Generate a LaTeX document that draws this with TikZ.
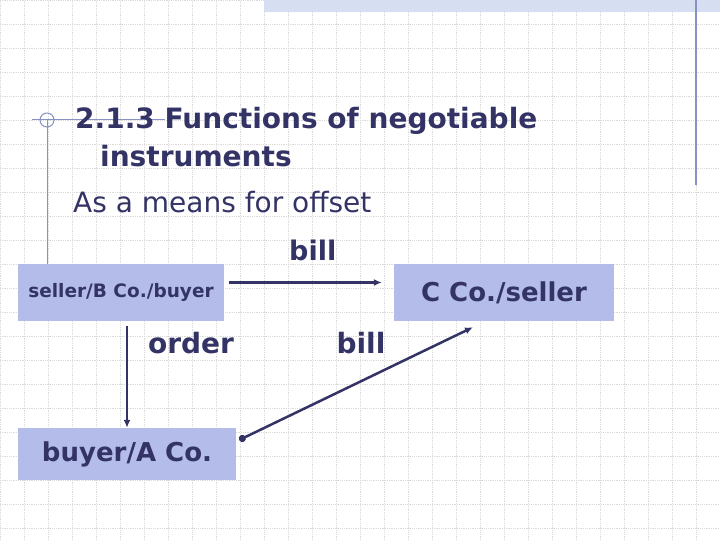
\documentclass[tikz,border=0pt]{standalone}
\usepackage{fontspec}
\setmainfont{DejaVu Sans}
\usetikzlibrary{arrows.meta}

\definecolor{ink}{RGB}{51,51,102}
\definecolor{boxfill}{RGB}{180,188,234}
\definecolor{gridgray}{RGB}{218,218,218}
\definecolor{rulecol}{RGB}{135,145,195}
\definecolor{hatch}{RGB}{214,223,242}

\begin{document}
\begin{tikzpicture}[x=1pt,y=-1pt,
    box/.style={fill=boxfill, inner sep=0pt, text=ink},
    heading/.style={text=ink, inner sep=0pt, anchor=base west},
    lbl/.style={text=ink, inner sep=0pt, font=\bfseries\fontsize{28}{32}\selectfont},
    link/.style={draw=ink, line width=2.5pt, -{Latex[length=8pt,width=7pt]}}]
    \useasboundingbox (0,0) rectangle (720,540);
    \fill[white] (0,0) rectangle (720,540);

    % slide background
    \draw[gridgray, densely dotted, line width=0.8pt] (0,0) grid[step=24pt] (720,540);
    \fill[hatch] (264,0) rectangle (720,12);
    \draw[rulecol, line width=1.2pt] (696,0) -- (696,185);
    \draw[rulecol, line width=1pt] (32,120) -- (165,120);
    \draw[rulecol, line width=1pt] (47,120) -- (47,264);
    \draw[rulecol, line width=1pt] (47,120) circle[radius=7pt];

    % headings
    \node[heading, font=\bfseries\fontsize{28}{32}\selectfont] (TTL) at (75,129) {2.1.3 Functions of negotiable};
    \node[heading, font=\bfseries\fontsize{28}{32}\selectfont] (INS) at (100,167) {instruments};
    \node[heading, font=\fontsize{28}{32}\selectfont] (SUB) at (73,213) {As a means for offset};

    % parties
    \node[box, minimum width=206pt, minimum height=57pt, font=\bfseries\fontsize{18.5}{22}\selectfont] (SBB) at (121,292.5) {seller/B Co./buyer};
    \node[box, minimum width=220pt, minimum height=57pt, font=\bfseries\fontsize{26}{30}\selectfont] (CCS) at (504,292.5) {C Co./seller};
    \node[box, minimum width=218pt, minimum height=52pt, font=\bfseries\fontsize{26}{30}\selectfont] (BAC) at (127,454) {buyer/A Co.};

    % flows
    \draw[link, shorten <=5pt, shorten >=12pt] ([yshift=10pt]SBB.east) -- ([yshift=10pt]CCS.west);
    \draw[link, shorten <=5pt] (BAC.north |- SBB.south) -- (BAC.north);
    \draw[link, {Circle[length=7pt]}-{Latex[length=8pt,width=7pt]}] ([shift={(3pt,14pt)}]BAC.east) -- ([shift={(-31pt,-6pt)}]CCS.south);

    \node[lbl, anchor=base west, font=\bfseries\fontsize{27}{32}\selectfont] (BILLA) at (289,260) {bill};
    \node[lbl] (ORD) at (191,343) {order};
    \node[lbl] (BILLB) at (361,343) {bill};
\end{tikzpicture}
\end{document}
